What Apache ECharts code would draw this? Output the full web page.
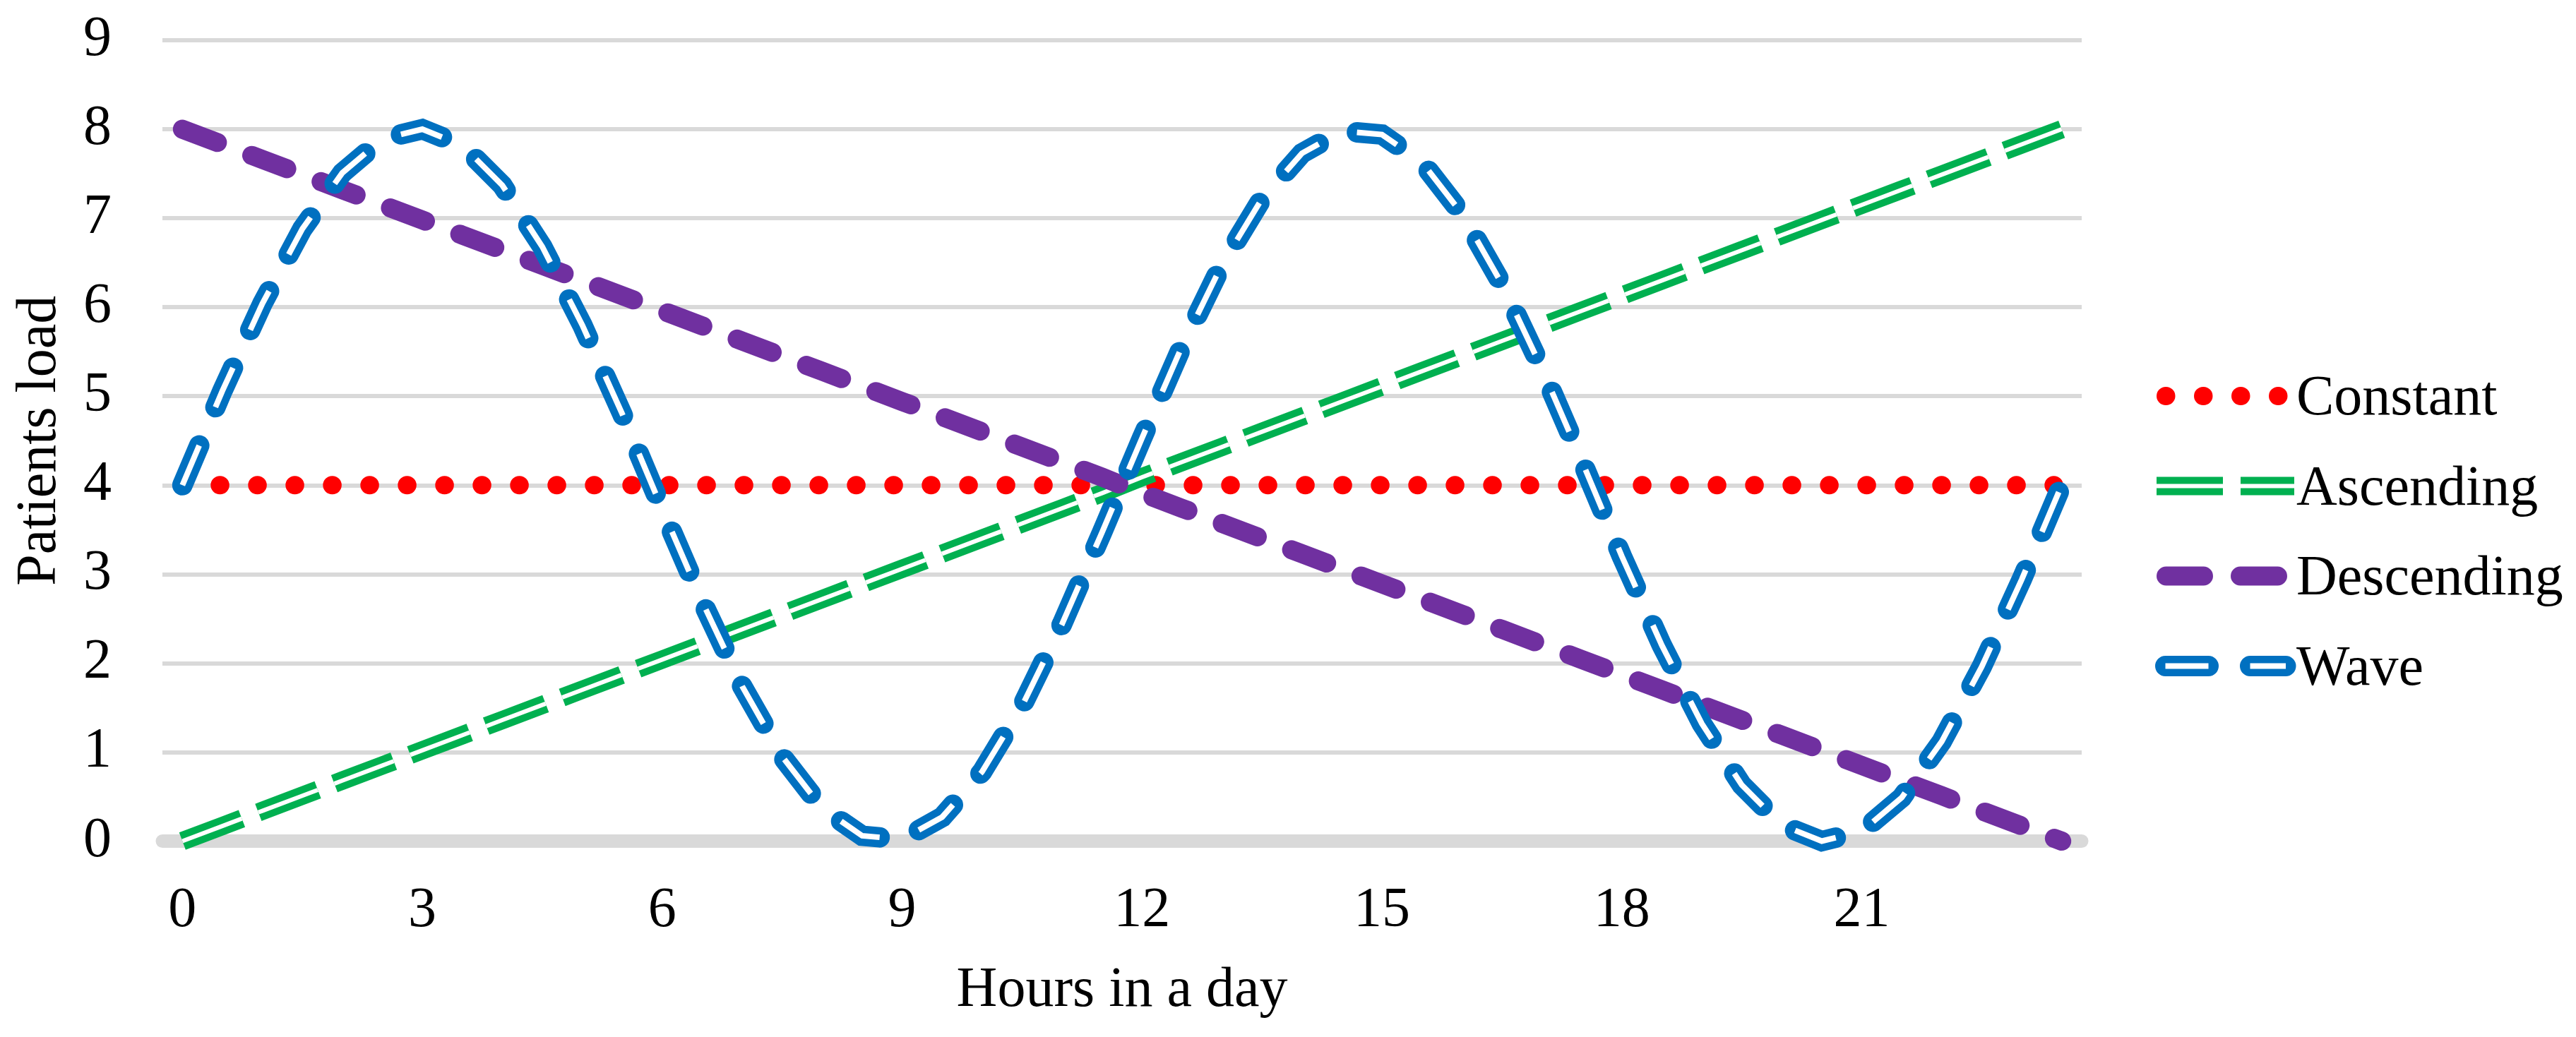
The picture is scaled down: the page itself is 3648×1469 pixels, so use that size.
<!DOCTYPE html>
<html>
<head>
<meta charset="utf-8">
<script src="https://cdn.jsdelivr.net/npm/echarts@6.0.0/dist/echarts.min.js"></script>
<style>
html,body{margin:0;padding:0;background:#ffffff;}
#chart{width:3648px;height:1469px;}
</style>
</head>
<body>
<div id="chart"></div>
<script>
// ---- data ----
const hours = ['0','0.5','1','1.5','2','2.5','3','3.5','4','4.5','5','5.5',
  '6','6.5','7','7.5','8','8.5','9','9.5','10','10.5','11','11.5',
  '12','12.5','13','13.5','14','14.5','15','15.5','16','16.5','17','17.5',
  '18','18.5','19','19.5','20','20.5','21','21.5','22','22.5','23','23.5'];
const yTicks = [0,1,2,3,4,5,6,7,8,9];
const seriesNames = ['Constant','Ascending','Descending','Wave'];
const constantLoad = [4,4,4,4,4,4,4,4,4,4,4,4,4,4,4,4,4,4,4,4,4,4,4,4,
  4,4,4,4,4,4,4,4,4,4,4,4,4,4,4,4,4,4,4,4,4,4,4,4];
const ascendingLoad = [0,0.17,0.34,0.51,0.68,0.85,1.02,1.19,1.36,1.53,1.70,1.87,
  2.04,2.21,2.38,2.55,2.72,2.89,3.06,3.23,3.40,3.57,3.74,3.91,
  4.09,4.26,4.43,4.60,4.77,4.94,5.11,5.28,5.45,5.62,5.79,5.96,
  6.13,6.30,6.47,6.64,6.81,6.98,7.15,7.32,7.49,7.66,7.83,8.00];
const descendingLoad = [8.00,7.83,7.66,7.49,7.32,7.15,6.98,6.81,6.64,6.47,6.30,6.13,
  5.96,5.79,5.62,5.45,5.28,5.11,4.94,4.77,4.60,4.43,4.26,4.09,
  3.91,3.74,3.57,3.40,3.23,3.06,2.89,2.72,2.55,2.38,2.21,2.04,
  1.87,1.70,1.53,1.36,1.19,1.02,0.85,0.68,0.51,0.34,0.17,0];
const waveLoad = [4.00,5.06,6.04,6.88,7.51,7.89,8.00,7.82,7.37,6.68,5.80,4.80,
  3.73,2.69,1.74,0.95,0.37,0.06,0.02,0.27,0.78,1.52,2.44,3.47,
  4.53,5.56,6.48,7.22,7.73,7.98,7.94,7.63,7.05,6.26,5.31,4.27,
  3.20,2.20,1.32,0.63,0.18,0.00,0.11,0.49,1.12,1.96,2.94,4.00];

// ---- styles ----
const FONT = '"Liberation Serif", "Times New Roman", serif';
const RED = '#FF0000', GREEN = '#00B050', PURPLE = '#7030A0', BLUE = '#0070C0';
const GRID_COLOR = '#D9D9D9';

const chart = echarts.init(document.getElementById('chart'), null, {renderer: 'canvas'});

function lineSeries(name, data, color, width, dash, cap, z, silent) {
  return {
    name: name, type: 'line', data: data, symbol: 'none', smooth: false,
    clip: false, silent: !!silent, z: z, animation: false,
    lineStyle: {color: color, width: width, type: dash, cap: cap, join: 'miter'},
    itemStyle: {color: color},
    emphasis: {disabled: true}
  };
}

// legend drawn with graphic elements (to reproduce the compound line styles)
const legendRows = [561, 688.5, 816, 943.5];
const legendGraphics = [];
function gLine(x1, x2, y, stroke, w, dash, cap) {
  legendGraphics.push({type: 'line', silent: true, z: 100,
    shape: {x1: x1, y1: y, x2: x2, y2: y},
    style: {stroke: stroke, lineWidth: w, lineDash: dash, lineCap: cap, fill: null}});
}
gLine(3067, 3227, legendRows[0], RED, 26, [0.5, 52.5], 'round');
gLine(3054, 3249, legendRows[1], GREEN, 26, [94, 25], 'butt');
gLine(3054, 3249, legendRows[1], '#ffffff', 6, [94, 25], 'butt');
gLine(3067.5, 3226, legendRows[2], PURPLE, 27, [53, 52], 'round');
gLine(3066.5, 3237, legendRows[3], BLUE, 29, [61, 59], 'round');
gLine(3066.5, 3237, legendRows[3], '#ffffff', 8, [61, 59], 'butt');
seriesNames.forEach(function (n, i) {
  legendGraphics.push({type: 'text', silent: true, z: 100,
    x: 3252, y: legendRows[i] + 5,
    style: {text: n, font: '80px ' + FONT, fill: '#000000', align: 'left', verticalAlign: 'middle'}});
});

const option = {
  backgroundColor: '#ffffff',
  animation: false,
  grid: {left: 230, right: 700, top: 57, bottom: 277.5, containLabel: false, outerBoundsMode: 'none'},
  xAxis: {
    type: 'category', data: hours, boundaryGap: true,
    axisLine: {show: true, onZero: true, lineStyle: {color: GRID_COLOR, width: 19}},
    axisTick: {show: false},
    axisLabel: {interval: 5, fontSize: 80, fontFamily: FONT, color: '#000000', margin: 59},
    splitLine: {show: false},
    name: 'Hours in a day', nameLocation: 'middle', nameGap: 172, nameMoveOverlap: false,
    nameTextStyle: {fontSize: 80, fontFamily: FONT, color: '#000000'}
  },
  yAxis: {
    type: 'value', min: yTicks[0], max: yTicks[yTicks.length - 1], interval: 1,
    axisLine: {show: false}, axisTick: {show: false},
    axisLabel: {fontSize: 80, fontFamily: FONT, color: '#000000', margin: 72},
    splitLine: {show: true, lineStyle: {color: GRID_COLOR, width: 6}},
    name: 'Patients load', nameLocation: 'middle', nameGap: 133, nameMoveOverlap: false,
    nameTextStyle: {fontSize: 80, fontFamily: FONT, color: '#000000'}
  },
  series: [
    lineSeries(seriesNames[0], constantLoad, RED, 26, [0.5, 52.5], 'round', 3),
    lineSeries(seriesNames[1], ascendingLoad, GREEN, 26, [90, 25], 'butt', 4),
    lineSeries('Ascending inner', ascendingLoad, '#ffffff', 6, [90, 25], 'butt', 5, true),
    lineSeries(seriesNames[2], descendingLoad, PURPLE, 27, [53, 52], 'round', 6),
    lineSeries(seriesNames[3], waveLoad, BLUE, 29, [61, 59], 'round', 7),
    lineSeries('Wave inner', waveLoad, '#ffffff', 8, [61, 59], 'butt', 8, true)
  ],
  graphic: legendGraphics
};
chart.setOption(option);
</script>
</body>
</html>
